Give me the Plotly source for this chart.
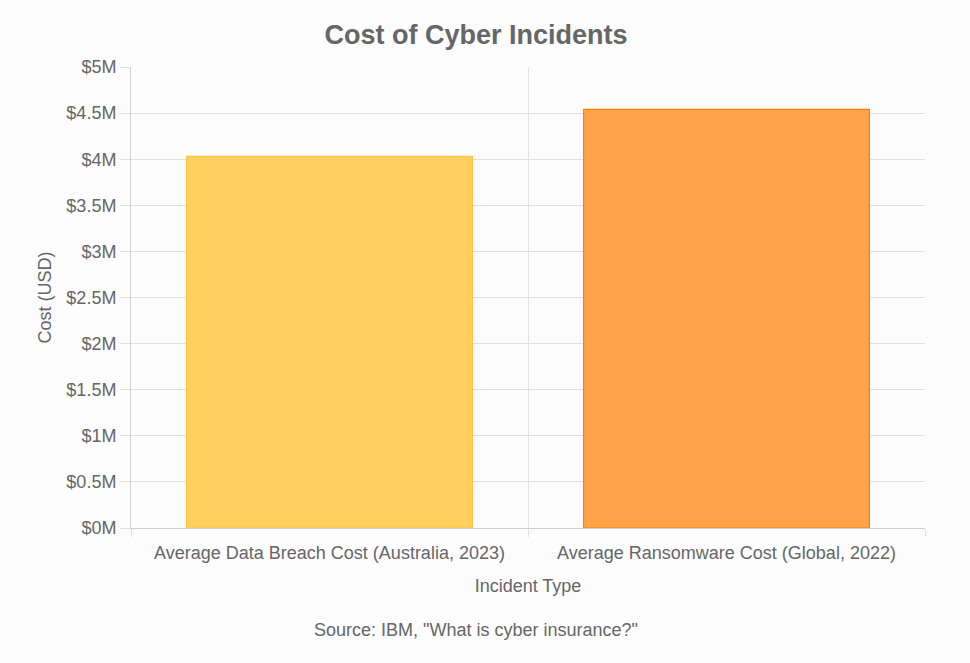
import plotly.graph_objects as go

# data
incident_types = [
    "Average Data Breach Cost (Australia, 2023)",
    "Average Ransomware Cost (Global, 2022)",
]
costs_usd = [4030000, 4540000]
y_tick_vals = [0, 500000, 1000000, 1500000, 2000000, 2500000,
               3000000, 3500000, 4000000, 4500000, 5000000]
y_tick_text = ["$0M", "$0.5M", "$1M", "$1.5M", "$2M", "$2.5M",
               "$3M", "$3.5M", "$4M", "$4.5M", "$5M"]

fill_colors = ["rgba(255, 205, 86, 0.95)", "rgba(255, 159, 64, 0.95)"]
edge_colors = ["rgb(255, 196, 60)", "rgb(255, 128, 0)"]

grey = "#666666"
grid = "#e1e1e1"
bg = "#fcfcfc"
font_family = "Liberation Sans, Arial, Helvetica, sans-serif"

fig = go.Figure()
fig.add_trace(go.Bar(
    x=incident_types,
    y=costs_usd,
    marker=dict(color=fill_colors, line=dict(color=edge_colors, width=1.2)),
    width=0.72,
    hovertemplate="%{x}<br>$%{y:,.0f}<extra></extra>",
))

# page body has an 8px margin, so the figure is a bit smaller than the window
fig.update_layout(
    width=962,
    height=655,
    paper_bgcolor=bg,
    plot_bgcolor=bg,
    margin=dict(l=123, r=45, t=59, b=135),
    font=dict(family=font_family, color=grey, size=18),
    showlegend=False,
    title=dict(
        text="<b>Cost of Cyber Incidents</b>",
        x=0.4865, xanchor="center",
        y=0.960, yanchor="middle",
        font=dict(size=27, color=grey),
    ),
    annotations=[dict(
        text='Source: IBM, "What is cyber insurance?"',
        xref="paper", yref="paper",
        x=0.434, y=-0.2213, xanchor="center", yanchor="middle",
        showarrow=False, font=dict(size=18, color=grey),
    )],
)

fig.update_xaxes(
    type="category",
    tickson="boundaries",
    ticks="outside", ticklen=8, tickcolor=grid,
    ticklabelstandoff=8,
    showgrid=True, gridcolor=grid, gridwidth=1,
    showline=True, linecolor="#d0d0d0", linewidth=1,
    tickfont=dict(size=18, color=grey),
    title=dict(text="Incident Type", font=dict(size=18, color=grey), standoff=17),
)
fig.update_yaxes(
    range=[0, 5000000],
    tickvals=y_tick_vals, ticktext=y_tick_text,
    ticks="outside", ticklen=10, tickcolor=grid,
    showgrid=True, gridcolor=grid, gridwidth=1,
    showline=True, linecolor="#d0d0d0", linewidth=1,
    zeroline=False,
    tickfont=dict(size=18, color=grey),
    title=dict(text="Cost (USD)", font=dict(size=18, color=grey), standoff=10),
)

fig.write_html("out.html", post_script="document.body.style.background='%s';" % bg)
